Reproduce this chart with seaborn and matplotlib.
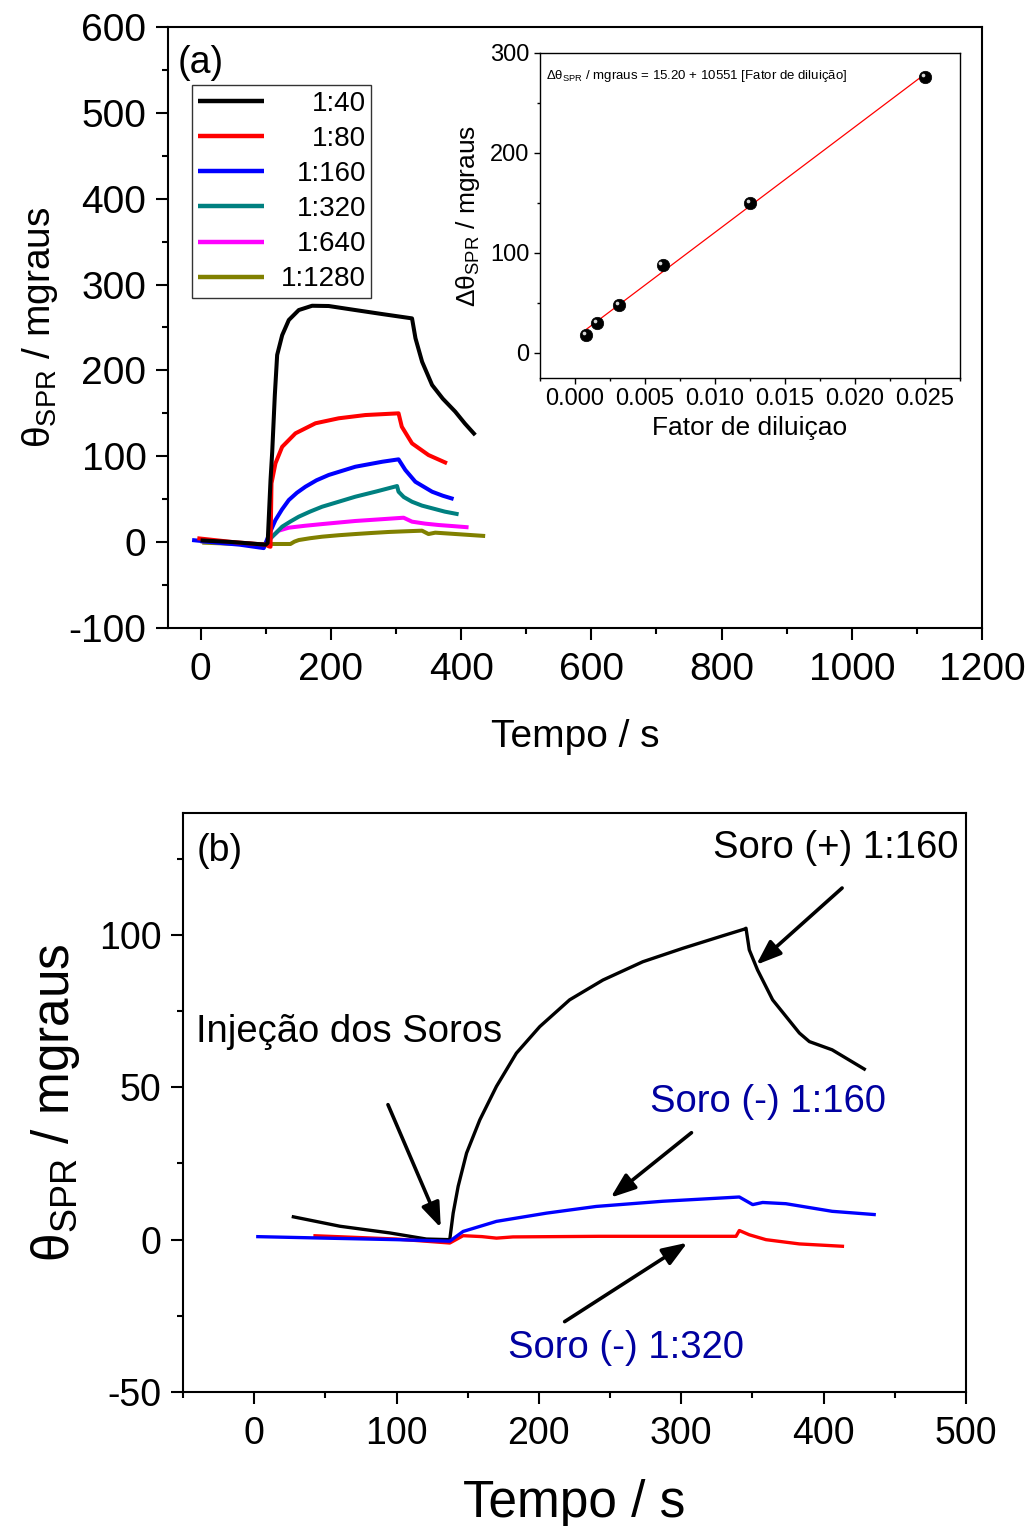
import numpy as np
import pandas as pd
import matplotlib
matplotlib.use('Agg')
import matplotlib.pyplot as plt
import matplotlib.transforms as mtransforms
import seaborn as sns
from matplotlib.ticker import MultipleLocator

# ---------------- data: panel (a) ----------------
labels_a = ["1:40", "1:80", "1:160", "1:320", "1:640", "1:1280"]
colors_a = ["#000000", "#ff0000", "#0000ff", "#008080", "#ff00ff", "#808000"]

t40 = [0, 50, 100, 103, 107.4, 110, 114, 117.6, 125.3, 135.5, 150.8, 171.3, 196.8, 237.7, 280, 324.7,
       330, 340.2, 355.5, 372, 391, 406, 421.8]
v40 = [2, 0, -3, -1, 72, 105, 171, 218, 241, 258.7, 270.3, 275.3, 275, 270.3, 265.5, 260.6,
       237.4, 210, 183, 167, 152, 138, 124.7]

t80 = [-5, 50, 100, 105, 107.4, 108.9, 115, 125.3, 145.7, 176.4, 212, 253, 304, 309, 324.7, 350, 378.4]
v80 = [4.5, 0, -3, -5, -5.4, 68.5, 91.8, 111, 126.7, 138.4, 144.2, 148, 150, 134.4, 115, 101.4, 91.8]

t160 = [-13, 30, 60, 97, 99.7, 107, 115, 125, 135.5, 148, 161, 178, 196.8, 237.7, 279, 304,
        314.4, 329.8, 355.5, 372, 388.5]
v160 = [2.4, -1, -3, -7, -1.4, 12, 25.7, 38, 49, 57.5, 64.5, 72, 78.2, 87.8, 93.6, 96.4,
        84, 70.3, 58.7, 54, 50.2]

t320 = [0, 50, 100, 104.8, 115, 125.3, 138, 150.8, 168, 186.6, 212, 237.7, 270, 301.7, 304,
        312, 324.7, 340, 355.5, 375, 396.2]
v320 = [1, -1, -3, 2.4, 10, 18, 24, 29.6, 35.5, 41.2, 47, 52.9, 59, 65.3, 58.7,
        52.5, 47, 42.5, 39.4, 35.5, 32.4]

t640 = [0, 50, 100, 104.8, 112, 120, 135.5, 160, 186.6, 237.7, 275, 311.8, 324.7, 345, 365.6, 390, 411.5]
v640 = [1, -1, -3, 2.4, 8, 13.3, 16.8, 19, 21, 24.6, 26.5, 28.4, 23.8, 21.5, 19.9, 18.5, 17.2]

t1280 = [2.6, 50, 84.4, 138, 144, 150.8, 168, 186.6, 212, 237.7, 262, 288.8, 315, 340, 350, 360.4,
         390, 437]
v1280 = [-0.6, -2, -2.2, -2.2, 0.5, 2.4, 4.5, 6.3, 8, 9.4, 10.6, 11.8, 12.6, 13.3, 9.4, 11,
         9.5, 7.1]

# ---------------- data: inset ----------------
dil_factor = [0.025, 0.0125, 0.00625, 0.003125, 0.0015625, 0.00078125]
delta_theta = [276, 150, 88, 47.5, 30, 18]
fit_x = [0.00078125, 0.025]
fit_y = [23.4, 279.0]

# ---------------- data: panel (b) ----------------
t_pos160 = [26.4, 60.3, 95.4, 121, 137.4, 139.8, 143.3, 149.2, 158.5, 170.2, 184.2, 200.6, 221.6,
            245, 273, 301, 329, 344.3, 345.5, 347.8, 353.6, 364.2, 383, 390, 406, 429.6]
v_pos160 = [7.6, 4.4, 2.2, 0.2, 0.0, 8.7, 17.5, 28.4, 39.3, 50.3, 61.2, 69.9, 78.7,
            85.2, 91.2, 95.6, 99.7, 101.9, 102.2, 95.1, 88.5, 78.7, 67.8, 65, 62.3, 55.7]

t_neg160 = [1.4, 50, 100, 137.4, 146.8, 170.2, 205.3, 240.3, 287, 340.8, 350.2, 357.2, 373.5, 406, 436.7]
v_neg160 = [1, 0.5, 0, -0.5, 2.7, 6, 8.7, 10.9, 12.6, 14, 11.5, 12.2, 11.8, 9.3, 8.2]

t_neg320 = [41.6, 100, 137.4, 146.8, 160, 170.2, 181.8, 242.6, 338.5, 340.8, 347.8, 359.5, 383, 414.4]
v_neg320 = [1.3, 0.2, -1.1, 1.3, 1.0, 0.5, 0.9, 1.1, 1.1, 3, 1.6, 0, -1.4, -2.2]

# ---------------- style ----------------
sns.set_theme(style='ticks')
plt.rcParams['font.family'] = ['Liberation Sans', 'DejaVu Sans']
plt.rcParams['mathtext.fontset'] = 'custom'
plt.rcParams['mathtext.rm'] = 'Liberation Sans'
plt.rcParams['mathtext.it'] = 'Liberation Sans'
plt.rcParams['mathtext.bf'] = 'Liberation Sans:bold'
plt.rcParams['axes.unicode_minus'] = False
plt.rcParams['axes.edgecolor'] = 'black'
plt.rcParams['xtick.color'] = 'black'
plt.rcParams['ytick.color'] = 'black'
plt.rcParams['text.color'] = 'black'
plt.rcParams['axes.labelcolor'] = 'black'
plt.rcParams['lines.solid_joinstyle'] = 'round'
plt.rcParams['lines.solid_capstyle'] = 'butt'

fig = plt.figure(figsize=(10.32, 15.26), dpi=100)

def style_axes(ax, lw, maj_len, min_len, labelsize, pad):
    for s in ax.spines.values():
        s.set_linewidth(lw)
        s.set_color('black')
    ax.tick_params(which='major', direction='out', length=maj_len, width=lw,
                   labelsize=labelsize, pad=pad, top=False, right=False)
    ax.tick_params(which='minor', direction='out', length=min_len, width=lw,
                   top=False, right=False)

# ---------------- panel (a) ----------------
axA = fig.add_axes([0.1628, 0.5885, 0.7888, 0.3938])
series_a = [(t40, v40), (t80, v80), (t160, v160), (t320, v320), (t640, v640), (t1280, v1280)]
order = [5, 4, 3, 2, 1, 0]
handles = {}
for i in order:
    t, v = series_a[i]
    sns.lineplot(x=t, y=v, ax=axA, color=colors_a[i], lw=2.9, estimator=None,
                 sort=False, label=labels_a[i])
for ln in axA.get_lines():
    handles[ln.get_label()] = ln
axA.set_xlim(-50, 1200)
axA.set_ylim(-100, 600)
axA.xaxis.set_major_locator(MultipleLocator(200))
axA.xaxis.set_minor_locator(MultipleLocator(100))
axA.yaxis.set_major_locator(MultipleLocator(100))
axA.yaxis.set_minor_locator(MultipleLocator(50))
style_axes(axA, 1.5, 8.5, 4.5, 28, 7)
axA.tick_params(axis='x', pad=9)
axA.set_xlabel('Tempo / s', fontsize=28, labelpad=22)
axA.set_ylabel(r'θ$_{\mathrm{SPR}}$ / mgraus', fontsize=28, labelpad=6)
axA.text(0.012, 0.97, '(a)', transform=axA.transAxes, fontsize=27, va='top', ha='left')

leg = axA.legend([handles[l] for l in labels_a], labels_a, loc='upper left',
                 bbox_to_anchor=(0.0295, 0.9035), borderaxespad=0, fontsize=20,
                 frameon=True, fancybox=False, edgecolor='#333333',
                 handlelength=2.4, handletextpad=0.6, labelspacing=0.33,
                 borderpad=0.2)
leg.get_frame().set_linewidth(1.0)
leg.get_frame().set_alpha(1)
for lh in leg.get_lines():
    lh.set_linewidth(3.2)

# ---------------- inset ----------------
axI = fig.add_axes([0.5233, 0.7523, 0.407, 0.213])
sns.lineplot(x=fit_x, y=fit_y, ax=axI, color='#ff0000', lw=0.9, estimator=None, sort=False)
sns.scatterplot(x=dil_factor, y=delta_theta, ax=axI, color='black', s=80,
                edgecolor='black', linewidth=0.5, zorder=3)
hl = mtransforms.offset_copy(axI.transData, fig=fig, x=-1.6, y=1.6, units='points')
axI.scatter(dil_factor, delta_theta, s=7, color='#d8d8d8', transform=hl, zorder=4, linewidths=0)
axI.set_xlim(-0.0025, 0.0275)
axI.set_ylim(-25, 300)
axI.xaxis.set_major_locator(MultipleLocator(0.005))
axI.xaxis.set_minor_locator(MultipleLocator(0.0025))
axI.yaxis.set_major_locator(MultipleLocator(100))
axI.yaxis.set_minor_locator(MultipleLocator(50))
axI.xaxis.set_major_formatter(matplotlib.ticker.FormatStrFormatter('%.3f'))
style_axes(axI, 1.0, 4.5, 2.5, 17, 3)
axI.set_xlabel('Fator de diluiçao', fontsize=19, labelpad=4)
axI.set_ylabel(r'Δθ$_{\mathrm{SPR}}$ / mgraus', fontsize=19, labelpad=6)
axI.text(0.015, 0.955, r'Δθ$_{\mathrm{SPR}}$ / mgraus = 15.20 + 10551 [Fator de diluição]',
         transform=axI.transAxes, fontsize=9.5, va='top', ha='left')

# ---------------- panel (b) ----------------
axB = fig.add_axes([0.1773, 0.0878, 0.7587, 0.3794])
sns.lineplot(x=t_pos160, y=v_pos160, ax=axB, color='black', lw=2.4, estimator=None, sort=False)
sns.lineplot(x=t_neg320, y=v_neg320, ax=axB, color='#ff0000', lw=2.4, estimator=None, sort=False)
sns.lineplot(x=t_neg160, y=v_neg160, ax=axB, color='#0000ff', lw=2.4, estimator=None, sort=False)
axB.set_xlim(-50, 500)
axB.set_ylim(-50, 140)
axB.xaxis.set_major_locator(MultipleLocator(100))
axB.xaxis.set_minor_locator(MultipleLocator(50))
axB.yaxis.set_major_locator(MultipleLocator(50))
axB.yaxis.set_minor_locator(MultipleLocator(25))
style_axes(axB, 1.5, 8.5, 4.5, 27, 7)
axB.tick_params(axis='x', pad=9)
axB.set_xlabel('Tempo / s', fontsize=37, labelpad=19)
axB.set_ylabel(r'θ$_{\mathrm{SPR}}$ / mgraus', fontsize=37, labelpad=12)
axB.text(0.017, 0.965, '(b)', transform=axB.transAxes, fontsize=27, va='top', ha='left')

navy = '#0000a0'
arrow = dict(arrowstyle='-|>,head_length=0.75,head_width=0.28', color='black',
             lw=2.6, shrinkA=0, shrinkB=0, mutation_scale=20)
axB.text(322.6, 128.5, 'Soro (+) 1:160', fontsize=27.5, va='center', ha='left')
axB.annotate('', xy=(352.7, 90.2), xytext=(413, 115.4), arrowprops=arrow)
axB.text(-40.7, 68.2, 'Injeção dos Soros', fontsize=27.5, va='center', ha='left')
axB.annotate('', xy=(131.1, 3.9), xytext=(94, 44.3), arrowprops=arrow)
axB.text(278.4, 45.2, 'Soro (-) 1:160', fontsize=27.5, va='center', ha='left', color=navy)
axB.annotate('', xy=(250.4, 13.8), xytext=(307.2, 35.1), arrowprops=arrow)
axB.text(178.1, -35.7, 'Soro (-) 1:320', fontsize=27.5, va='center', ha='left', color=navy)
axB.annotate('', xy=(304.3, -1.0), xytext=(218.1, -26.9), arrowprops=arrow)

# right-align legend text
fig.canvas.draw()
renderer = fig.canvas.get_renderer()
widths = [t.get_window_extent(renderer).width for t in leg.get_texts()]
maxw = max(widths)
for t, w in zip(leg.get_texts(), widths):
    t.set_position((maxw - w, 0))

fig.savefig('out.png', dpi=100)
